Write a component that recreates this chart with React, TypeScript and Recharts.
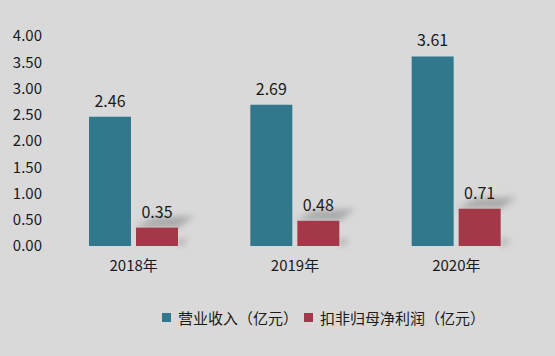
import React from 'react';
import { BarChart, Bar, XAxis, YAxis, LabelList } from 'recharts';

const years = ['2018年', '2019年', '2020年'];
const revenue = [2.46, 2.69, 3.61];
const netProfit = [0.35, 0.48, 0.71];
const yTicks = [0, 0.5, 1, 1.5, 2, 2.5, 3, 3.5, 4];

const seriesNames = ['营业收入（亿元）', '扣非归母净利润（亿元）'];
const colors = ['#31788d', '#a33848'];

const font = '"Microsoft YaHei", "Noto Sans CJK SC", "Noto Sans", sans-serif';

const data = years.map((year, i) => ({
  year,
  revenue: revenue[i],
  netProfit: netProfit[i],
}));

// red bars carry a soft smudged shadow in the original
const ShadowBar = (props: any) => {
  const { x, y, width, height, fill } = props;
  if (!height) return null;
  return (
    <g>
      <path
        d={`M${x - 2},${y} L${x + width * 0.4},${y - 10} L${x + width + 16},${y - 12} L${x + width},${y} Z`}
        fill="#707070"
        opacity={0.45}
        filter="url(#barShadow)"
      />
      <path
        d={`M${x + width},${y + height - 7} L${x + width + 10},${y + height - 7} L${x + width + 4},${y + height} L${x + width},${y + height} Z`}
        fill="#707070"
        opacity={0.4}
        filter="url(#barShadow)"
      />
      <rect x={x} y={y} width={width} height={height} fill={fill} />
    </g>
  );
};

const App = () => {
  return (
    <div style={{ width: 555, height: 356, background: '#d9d9d9', position: 'relative' }}>
      <style>{'body{margin:0}'}</style>
      <BarChart
        width={555}
        height={356}
        data={data}
        margin={{ top: 36, right: 18, left: 8, bottom: 80 }}
        barGap={5}
        barSize={42}
      >
        <defs>
          <filter id="barShadow" x="-50%" y="-100%" width="200%" height="300%">
            <feGaussianBlur stdDeviation="3" />
          </filter>
        </defs>
        <XAxis
          dataKey="year"
          height={30}
          axisLine={false}
          tickLine={false}
          tickSize={0}
          tickMargin={14}
          interval={0}
          tick={{ fontSize: 15, fill: '#1a1a1a', fontFamily: font }}
        />
        <YAxis
          width={45}
          domain={[0, 4]}
          ticks={yTicks}
          interval={0}
          axisLine={false}
          tickLine={false}
          tickSize={0}
          tickMargin={11}
          tickFormatter={(v: number) => v.toFixed(2)}
          tick={{ fontSize: 15, fill: '#1a1a1a', fontFamily: font }}
        />
        <Bar dataKey="revenue" fill={colors[0]} isAnimationActive={false}>
          <LabelList
            dataKey="revenue"
            position="top"
            offset={10}
            formatter={(v: number) => v.toFixed(2)}
            style={{ fontSize: 16, fill: '#1a1a1a', fontFamily: font }}
          />
        </Bar>
        <Bar dataKey="netProfit" fill={colors[1]} shape={ShadowBar} isAnimationActive={false}>
          <LabelList
            dataKey="netProfit"
            position="top"
            offset={10}
            formatter={(v: number) => v.toFixed(2)}
            style={{ fontSize: 16, fill: '#1a1a1a', fontFamily: font }}
          />
        </Bar>
      </BarChart>
      <div
        style={{
          position: 'absolute',
          left: 162,
          top: 307,
          display: 'flex',
          alignItems: 'center',
          fontFamily: font,
          fontSize: 15,
          color: '#1a1a1a',
        }}
      >
        {seriesNames.map((name, i) => (
          <div key={name} style={{ display: 'flex', alignItems: 'center', marginRight: 6 }}>
            <span style={{ display: 'inline-block', width: 9, height: 9, background: colors[i], marginRight: 7 }} />
            <span>{name}</span>
          </div>
        ))}
      </div>
    </div>
  );
};

export default App;
